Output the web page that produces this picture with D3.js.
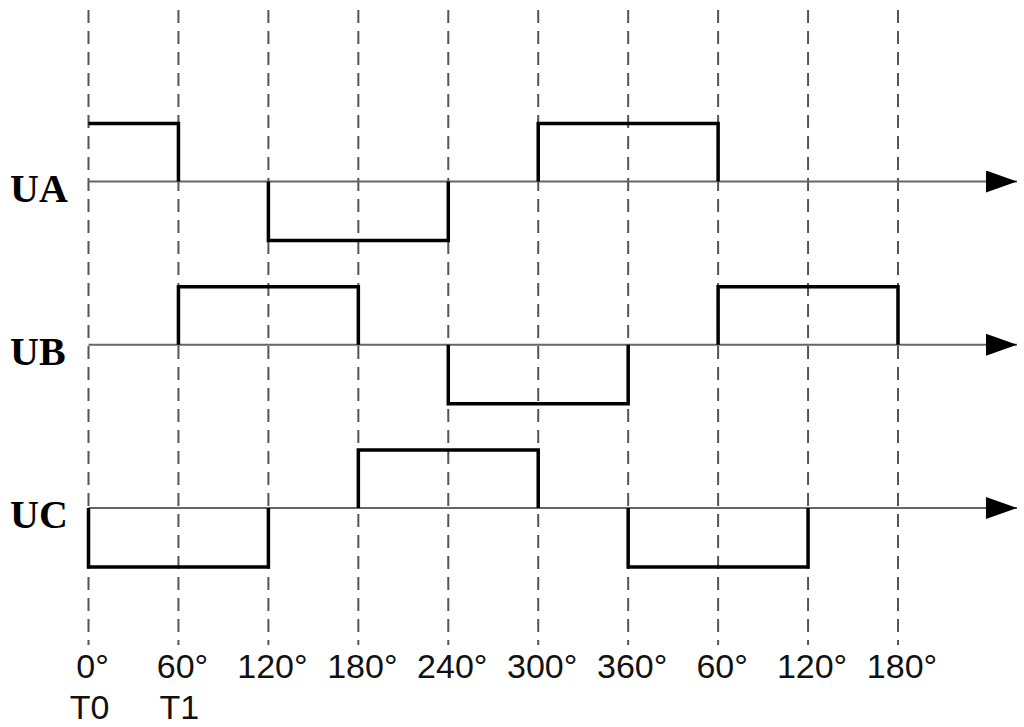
<!DOCTYPE html>
<html>
<head>
<meta charset="utf-8">
<script src="https://cdn.jsdelivr.net/npm/d3@7"></script>
<style>
  body { margin: 0; background: #fff; }
  svg { display: block; }
</style>
</head>
<body>
<svg id="chart"></svg>
<script>
// phase angles (continuous, in degrees) and their tick labels
var angles = [0, 60, 120, 180, 240, 300, 360, 420, 480, 540];
var tickLabels = ["0°", "60°", "120°", "180°", "240°", "300°", "360°", "60°", "120°", "180°"];
var stepLabels = ["T0", "T1"];

// phase names
var phases = ["UA", "UB", "UC"];

// pulses per phase: start angle, end angle, level; leftEdge = draw the edge at the start
var pulsesUA = [{from: 0, to: 60, level: 1, leftEdge: false},
                {from: 120, to: 240, level: -1, leftEdge: true},
                {from: 300, to: 420, level: 1, leftEdge: true}];
var pulsesUB = [{from: 60, to: 180, level: 1, leftEdge: true},
                {from: 240, to: 360, level: -1, leftEdge: true},
                {from: 420, to: 540, level: 1, leftEdge: true}];
var pulsesUC = [{from: 0, to: 120, level: -1, leftEdge: true},
                {from: 180, to: 300, level: 1, leftEdge: true},
                {from: 360, to: 480, level: -1, leftEdge: true}];
var pulses = [pulsesUA, pulsesUB, pulsesUC];

var width = 1024, height = 727;

var svg = d3.select("#chart")
    .attr("width", width)
    .attr("height", height)
    .attr("viewBox", [0, 0, width, height]);

// x : angle -> px
var xScale = d3.scaleLinear().domain([0, 540]).range([88.5, 898]);
// row : phase -> axis baseline
var rowScale = d3.scalePoint().domain(phases).range([181.5, 508]);
// level -> offset from baseline
var levelScale = d3.scaleLinear().domain([-1, 1]).range([59, -58]);

// dashed guides
svg.append("g").selectAll("line")
    .data(angles)
  .enter().append("line")
    .attr("x1", function(d) { return xScale(d); })
    .attr("x2", function(d) { return xScale(d); })
    .attr("y1", 10)
    .attr("y2", 645)
    .style("stroke", "#555")
    .style("stroke-width", 2)
    .style("stroke-dasharray", "13,8");

// arrow marker
svg.append("defs").append("marker")
    .attr("id", "arrow")
    .attr("viewBox", "0 0 31 22")
    .attr("refX", 31)
    .attr("refY", 11)
    .attr("markerWidth", 31)
    .attr("markerHeight", 22)
    .attr("markerUnits", "userSpaceOnUse")
    .attr("orient", "auto")
  .append("path")
    .attr("d", "M0,0L31,11L0,22Z")
    .style("fill", "#000");

// time axes
svg.append("g").selectAll("line")
    .data(phases)
  .enter().append("line")
    .attr("x1", xScale(0))
    .attr("x2", 1017)
    .attr("y1", function(d) { return rowScale(d); })
    .attr("y2", function(d) { return rowScale(d); })
    .style("stroke", "#666")
    .style("stroke-width", 2)
    .attr("marker-end", "url(#arrow)");

// phase names
svg.append("g").selectAll("text")
    .data(phases)
  .enter().append("text")
    .attr("x", 10)
    .attr("y", function(d) { return rowScale(d) + 20; })
    .style("font-family", "'Liberation Serif', 'Times New Roman', serif")
    .style("font-weight", "bold")
    .style("font-size", "40px")
    .text(function(d) { return d; });

// square waves
phases.forEach(function(p, i) {
  var y0 = rowScale(p);
  svg.append("g").selectAll("path")
      .data(pulses[i])
    .enter().append("path")
      .attr("d", function(d) {
        var path = d3.path();
        var yl = y0 + levelScale(d.level);
        if (d.leftEdge) {
          path.moveTo(xScale(d.from), y0);
          path.lineTo(xScale(d.from), yl);
        } else {
          path.moveTo(xScale(d.from), yl);
        }
        path.lineTo(xScale(d.to), yl);
        path.lineTo(xScale(d.to), y0);
        return path.toString();
      })
      .style("fill", "none")
      .style("stroke", "#000")
      .style("stroke-width", 3.5)
      .style("stroke-linejoin", "miter");
});

// angle labels
svg.append("g").selectAll("text")
    .data(angles)
  .enter().append("text")
    .attr("x", function(d) { return xScale(d) + 4; })
    .attr("y", 678)
    .attr("text-anchor", "middle")
    .style("font-family", "'Liberation Sans', Arial, sans-serif")
    .style("font-size", "34px")
    .style("fill", "#111")
    .text(function(d, i) { return tickLabels[i]; });

// step labels
svg.append("g").selectAll("text")
    .data(stepLabels)
  .enter().append("text")
    .attr("x", function(d, i) { return xScale(angles[i]) + 1; })
    .attr("y", 719)
    .attr("text-anchor", "middle")
    .style("font-family", "'Liberation Sans', Arial, sans-serif")
    .style("font-size", "34px")
    .style("fill", "#111")
    .text(function(d) { return d; });
</script>
</body>
</html>
